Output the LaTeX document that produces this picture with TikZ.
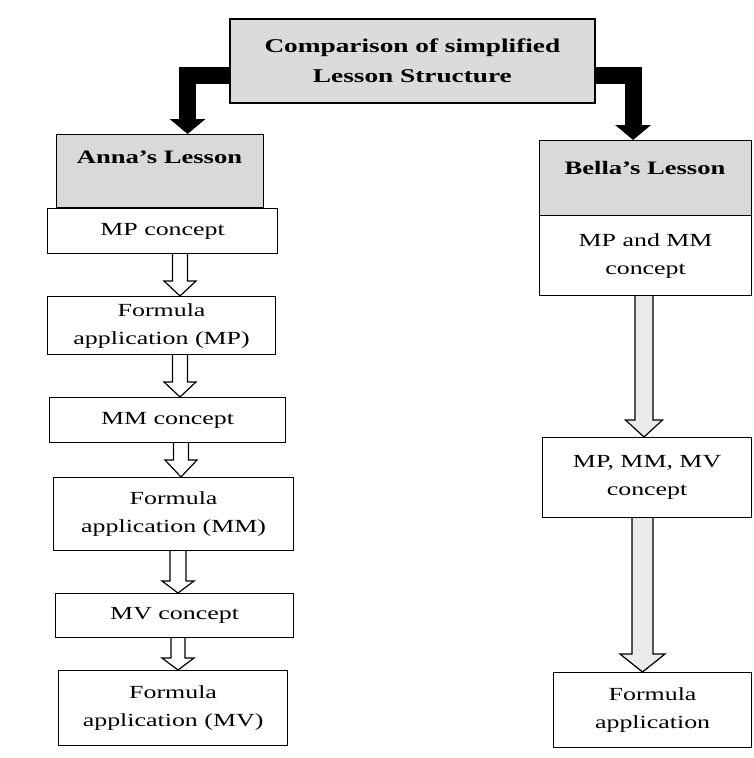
\documentclass[tikz,border=0pt]{standalone}
\usepackage{fontspec}
\setmainfont{Liberation Serif}[FakeStretch=1.4]
\usetikzlibrary{arrows.meta,calc}
\tikzset{
  box/.style={draw=black, line width=1.2pt, inner sep=0pt, align=center, anchor=north west,
    font=\fontsize{18.5}{28}\selectfont},
  hdr/.style={box, fill=black!15},
  hdrtext/.style={font=\fontsize{19}{28}\selectfont\bfseries, inner sep=0pt},
  bigarrow/.style={line width=17pt, line join=miter, -{Triangle[width=35pt,length=15pt]}},
}
% hollow arrow from node #1 (south) to node #2 (north) at x=#3
% #4 half shaft, #5 half head, #6 head length, #7 fill
\newcommand\hollowarrow[7]{%
  \filldraw[fill=#7, draw=black, line width=1.2pt, line join=miter]
    let \p1=(#1.south), \p2=(#2.north) in
    ({#3pt-#4pt},\y1) -- ({#3pt-#4pt},{\y2+#6pt}) -- ({#3pt-#5pt},{\y2+#6pt}) --
    (#3pt,\y2) -- ({#3pt+#5pt},{\y2+#6pt}) -- ({#3pt+#4pt},{\y2+#6pt}) --
    ({#3pt+#4pt},\y1);}
\begin{document}
\begin{tikzpicture}[x=1pt,y=-1pt]
\useasboundingbox (0,0) rectangle (753,758);
\fill[white] (0,0) rectangle (753,758);

% title
\node[box, fill=black!14, line width=1.8pt, minimum width=365pt, minimum height=84pt,
  font=\fontsize{19.5}{30}\selectfont\bfseries] (title) at (229,18)
  {Comparison of simplified\\Lesson Structure};

% Anna
\node[hdr, minimum width=207pt, minimum height=73pt] (anna) at (56,134) {};
\node[hdrtext] (annat) at (159.5,157) {Anna’s Lesson};
\node[box, minimum width=230pt, minimum height=45pt] (a1) at (47,208) {MP concept};
\node[box, minimum width=228pt, minimum height=58pt] (a2) at (47,296) {Formula\\application (MP)};
\node[box, minimum width=236pt, minimum height=45pt] (a3) at (49,397) {MM concept};
\node[box, minimum width=240pt, minimum height=73pt] (a4) at (53,477) {Formula\\application (MM)};
\node[box, minimum width=238pt, minimum height=44pt] (a5) at (55,593) {MV concept};
\node[box, minimum width=229pt, minimum height=75pt] (a6) at (58,670) {Formula\\application (MV)};

% Bella
\node[hdr, minimum width=212pt, minimum height=75pt] (bella) at (539,140) {};
\node[hdrtext] (bellat) at (645,168) {Bella’s Lesson};
\node[box, minimum width=212pt, minimum height=80pt] (b1) at (539,215) {MP and MM\\concept};
\node[box, minimum width=209pt, minimum height=80pt] (b2) at (542,437) {MP, MM, MV\\concept};
\node[box, minimum width=198pt, minimum height=75pt] (b3) at (553,672) {Formula\\application};

% black arrows
\draw[bigarrow] ([yshift=-14.5pt]title.west) -| ([xshift=27.5pt]anna.north);
\draw[bigarrow] ([yshift=-14.5pt]title.east) -| ([xshift=-12.5pt]bella.north);

% hollow arrows Anna
\hollowarrow{a1}{a2}{180}{7.5}{16}{15}{white}
\hollowarrow{a2}{a3}{180}{7.5}{16}{15}{white}
\hollowarrow{a3}{a4}{181}{7.5}{16}{17}{white}
\hollowarrow{a4}{a5}{178}{8}{16}{12}{white}
\hollowarrow{a5}{a6}{178}{7}{16}{12}{white}

% hollow arrows Bella
\hollowarrow{b1}{b2}{644}{9}{18.5}{17}{black!8}
\hollowarrow{b2}{b3}{642.5}{10.5}{22.5}{18}{black!8}
\end{tikzpicture}
\end{document}
